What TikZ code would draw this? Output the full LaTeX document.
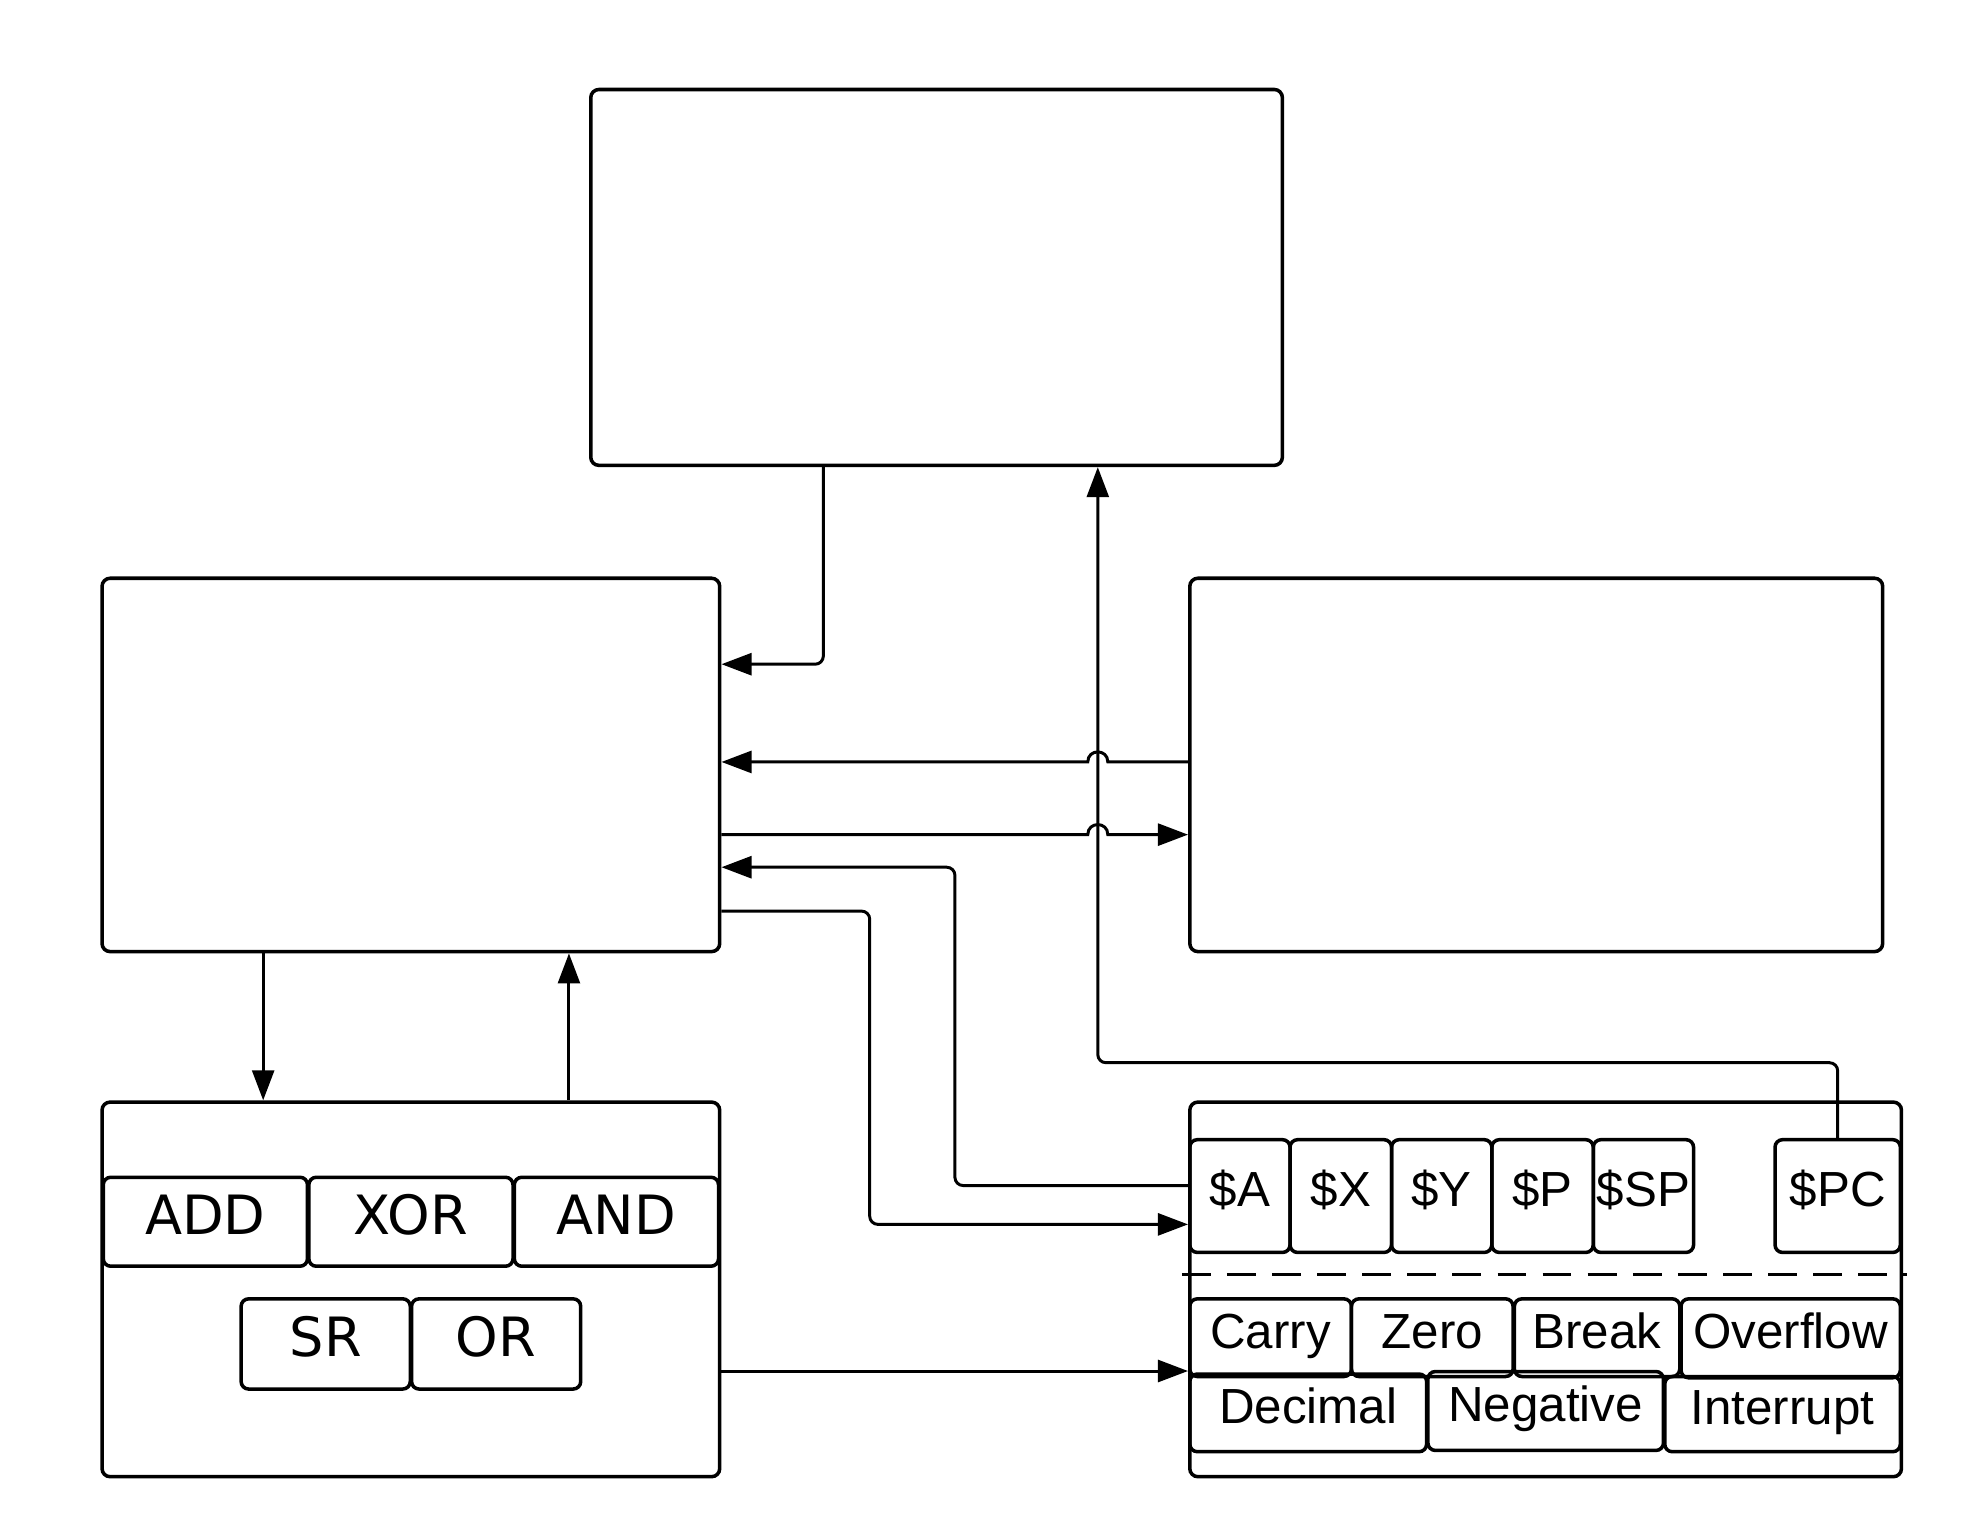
\documentclass[tikz,border=0pt]{standalone}
\usepackage{fontspec}
\newfontfamily\regfam{Liberation Sans}
\newfontfamily\alufam{DejaVu Sans}
\usetikzlibrary{arrows.meta}
\tikzset{
  bigbox/.style={draw, line width=1.6pt, rounded corners=0.13cm, anchor=north west, inner sep=0pt},
  regbox/.style={draw, line width=1.6pt, rounded corners=0.12cm, anchor=north west, inner sep=0pt,
    font={\regfam\fontsize{22.4pt}{26pt}\selectfont}, text height=0.54cm, text depth=0.2cm},
  alubox/.style={draw, line width=1.6pt, rounded corners=0.12cm, anchor=north west, inner sep=0pt,
    font={\alufam\fontsize{24.6pt}{28pt}\selectfont}, text height=0.6cm, text depth=0.2cm},
  conn/.style={line width=1.35pt, rounded corners=0.13cm, -{Triangle[length=0.48cm,width=0.35cm]}},
  jumpconn/.style={line width=1.35pt, -{Triangle[length=0.48cm,width=0.35cm]}},
  sepline/.style={line width=1.35pt, dash pattern=on 0.46cm off 0.26cm},
}
\begin{document}
\begin{tikzpicture}[x=0.02cm,y=-0.02cm]
\useasboundingbox[fill=white] (0,0) rectangle (1568,1218);

% main blocks
\node[bigbox, minimum width=11.04cm, minimum height=6.0cm] (top) at (470,70) {};
\node[bigbox, minimum width=9.86cm, minimum height=5.96cm] (lm) at (80,460) {};
\node[bigbox, minimum width=11.06cm, minimum height=5.96cm] (rm) at (948,460) {};
\node[bigbox, minimum width=9.86cm, minimum height=5.98cm] (bl) at (80,878) {};
\node[bigbox, minimum width=11.36cm, minimum height=5.98cm] (br) at (948,878) {};

% ALU operations
\node[alubox, minimum width=3.26cm, minimum height=1.42cm] (add) at (81,938) {ADD};
\node[alubox, minimum width=3.26cm, minimum height=1.42cm] (xor) at (245,938) {XOR};
\node[alubox, minimum width=3.26cm, minimum height=1.42cm] (and) at (409,938) {AND};
\node[alubox, minimum width=2.7cm, minimum height=1.44cm] (sr) at (191,1035) {SR};
\node[alubox, minimum width=2.7cm, minimum height=1.44cm] (or) at (327,1035) {OR};

% registers
\node[regbox, minimum width=1.6cm, minimum height=1.8cm] (ra) at (948,908) {\$A};
\node[regbox, minimum width=1.62cm, minimum height=1.8cm] (rx) at (1028,908) {\$X};
\node[regbox, minimum width=1.6cm, minimum height=1.8cm] (ry) at (1109,908) {\$Y};
\node[regbox, minimum width=1.62cm, minimum height=1.8cm] (rp) at (1189,908) {\$P};
\node[regbox, minimum width=1.6cm, minimum height=1.8cm] (rsp) at (1270,908) {\$SP};
\node[regbox, minimum width=2.0cm, minimum height=1.8cm] (rpc) at (1415,908) {\$PC};

\draw[sepline] (943,1017) -- (1522,1017);

% flags
\node[regbox, minimum width=2.58cm, minimum height=1.24cm] (fc) at (948,1035) {Carry};
\node[regbox, minimum width=2.58cm, minimum height=1.24cm] (fz) at (1077,1035) {Zero};
\node[regbox, minimum width=2.64cm, minimum height=1.24cm] (fb) at (1207,1035) {Break};
\node[regbox, minimum width=3.5cm, minimum height=1.26cm] (fo) at (1340,1035) {Overflow};
\node[regbox, minimum width=3.78cm, minimum height=1.24cm] (fd) at (948,1095) {Decimal};
\node[regbox, minimum width=3.76cm, minimum height=1.26cm] (fn) at (1138,1093) {Negative};
\node[regbox, minimum width=3.76cm, minimum height=1.2cm] (fi) at (1327,1097) {Interrupt};

% connectors
\draw[conn] (top.south -| 657,0) |- (lm.east |- 0,530);
\draw[conn] (rpc.north) |- (876,848) -- (top.south -| 876,0);
\draw[jumpconn] (rm.west |- 0,608) -- (884,608) .. controls (884,597.3) and (868,597.3) .. (868,608) -- (lm.east |- 0,608);
\draw[jumpconn] (lm.east |- 0,666) -- (868,666) .. controls (868,655.3) and (884,655.3) .. (884,666) -- (rm.west |- 0,666);
\draw[conn] (ra.west |- 0,946) -| (762,692) -- (lm.east |- 0,692);
\draw[conn] (lm.east |- 0,727) -| (694,977) -- (ra.west |- 0,977);
\draw[conn] (lm.south -| 210,0) -- (bl.north -| 210,0);
\draw[conn] (bl.north -| 454,0) -- (lm.south -| 454,0);
\draw[conn] (bl.east |- 0,1094) -- (br.west |- 0,1094);
\end{tikzpicture}
\end{document}
